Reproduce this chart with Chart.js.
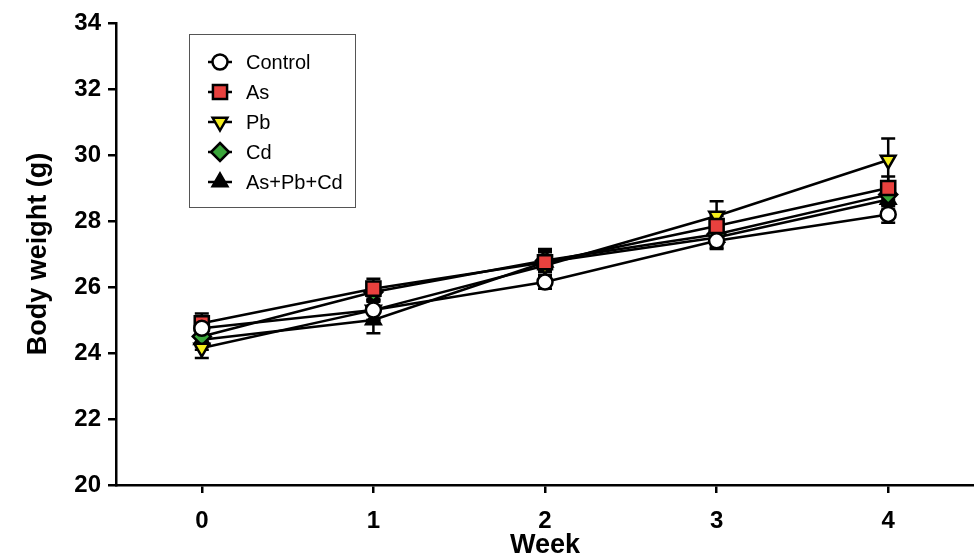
<!DOCTYPE html>
<html>
<head>
<meta charset="utf-8">
<title>Body weight</title>
<script src="https://cdn.jsdelivr.net/npm/chart.js@4.4.1/dist/chart.umd.min.js"></script>
<style>
  html, body { margin: 0; padding: 0; background: #ffffff; overflow: hidden; }
  canvas { display: block; }
</style>
</head>
<body>
<canvas id="weightChart" width="974" height="556"></canvas>
<script>
// Weeks on the x axis
const weeks = ["0", "1", "2", "3", "4"];

// Mean body weight (g) per group
const controlMean = [24.75, 25.3, 26.15, 27.4, 28.2];
const asMean = [24.9, 25.95, 26.75, 27.85, 29.0];
const pbMean = [24.15, 25.3, 26.65, 28.15, 29.85];
const cdMean = [24.5, 25.85, 26.8, 27.6, 28.8];
const mixMean = [24.4, 25.0, 26.75, 27.5, 28.65];

// Error bar half-lengths (g)
const controlErr = [0.3, 0.3, 0.2, 0.25, 0.25];
const asErr = [0.3, 0.3, 0.3, 0.3, 0.35];
const pbErr = [0.3, 0.3, 0.3, 0.45, 0.65];
const cdErr = [0.3, 0.3, 0.3, 0.3, 0.3];
const mixErr = [0.3, 0.4, 0.4, 0.3, 0.3];

const yTicks = [20, 22, 24, 26, 28, 30, 32, 34];

const FONT = "'Liberation Sans', Arial, sans-serif";

const groups = [
  { label: "Control", data: controlMean, err: controlErr, style: "circle", fill: "#ffffff", radius: 7.5 },
  { label: "As", data: asMean, err: asErr, style: "rect", fill: "#e8413e", radius: 10 },
  { label: "Pb", data: pbMean, err: pbErr, style: "triangle", rotation: 180, fill: "#f4ee1c", radius: 8.5 },
  { label: "Cd", data: cdMean, err: cdErr, style: "rectRot", fill: "#3aa53a", radius: 9 },
  { label: "As+Pb+Cd", data: mixMean, err: mixErr, style: "triangle", fill: "#000000", radius: 8.5 },
];

// Draws the error bars under the markers
const errorBars = {
  id: "errorBars",
  beforeDatasetsDraw(chart) {
    const ctx = chart.ctx;
    const x = chart.scales.x;
    const y = chart.scales.y;
    ctx.save();
    ctx.strokeStyle = "#000";
    ctx.lineWidth = 2.5;
    groups.forEach((g) => {
      g.data.forEach((v, i) => {
        const px = x.getPixelForValue(i);
        const top = y.getPixelForValue(v + g.err[i]);
        const bot = y.getPixelForValue(v - g.err[i]);
        ctx.beginPath();
        ctx.moveTo(px, top); ctx.lineTo(px, bot);
        ctx.moveTo(px - 7, top); ctx.lineTo(px + 7, top);
        ctx.moveTo(px - 7, bot); ctx.lineTo(px + 7, bot);
        ctx.stroke();
      });
    });
    ctx.restore();
  },
};

function drawMarker(ctx, g, cx, cy) {
  const r = g.radius;
  ctx.beginPath();
  if (g.style === "circle") {
    ctx.arc(cx, cy, r, 0, Math.PI * 2);
  } else if (g.style === "rect") {
    const s = r * Math.SQRT1_2;
    ctx.rect(cx - s, cy - s, 2 * s, 2 * s);
  } else if (g.style === "rectRot") {
    ctx.moveTo(cx, cy - r); ctx.lineTo(cx + r, cy);
    ctx.lineTo(cx, cy + r); ctx.lineTo(cx - r, cy);
  } else if (g.style === "triangle") {
    const dir = g.rotation === 180 ? -1 : 1;
    ctx.moveTo(cx, cy - dir * r);
    ctx.lineTo(cx + r * 0.866, cy + dir * r * 0.5);
    ctx.lineTo(cx - r * 0.866, cy + dir * r * 0.5);
  }
  ctx.closePath();
  ctx.fillStyle = g.fill;
  ctx.fill();
  ctx.stroke();
}

// Boxed legend in the upper left of the plot
const boxLegend = {
  id: "boxLegend",
  afterDraw(chart) {
    const ctx = chart.ctx;
    ctx.save();
    ctx.strokeStyle = "#555";
    ctx.lineWidth = 1;
    ctx.strokeRect(189.5, 34.5, 166, 173);
    ctx.font = "20px " + FONT;
    ctx.textBaseline = "middle";
    groups.forEach((g, i) => {
      const cy = 62 + i * 30;
      const cx = 220;
      ctx.strokeStyle = "#000";
      ctx.lineWidth = 2.5;
      ctx.beginPath();
      ctx.moveTo(cx - 12, cy); ctx.lineTo(cx + 12, cy);
      ctx.stroke();
      drawMarker(ctx, g, cx, cy);
      ctx.fillStyle = "#000";
      ctx.fillText(g.label, 246, cy + 1);
    });
    ctx.restore();
  },
};

new Chart(document.getElementById("weightChart"), {
  type: "line",
  data: {
    labels: weeks,
    datasets: groups.map((g) => ({
      label: g.label,
      data: g.data,
      borderColor: "#000",
      borderWidth: 2.5,
      pointStyle: g.style,
      pointRotation: g.rotation || 0,
      pointRadius: g.radius,
      pointBackgroundColor: g.fill,
      pointBorderColor: "#000",
      pointBorderWidth: 2.5,
      tension: 0,
    })),
  },
  options: {
    responsive: false,
    animation: false,
    devicePixelRatio: 1,
    layout: { autoPadding: false, padding: { top: 23, right: 0, left: 0, bottom: 0 } },
    plugins: {
      legend: { display: false },
      tooltip: { enabled: false },
    },
    scales: {
      x: {
        type: "category",
        offset: true,
        grid: { offset: false, drawOnChartArea: false, drawTicks: true, tickLength: 8, color: "#000", lineWidth: 2.5 },
        border: { display: true, color: "#000", width: 2.5 },
        ticks: { color: "#000", padding: 14, font: { family: FONT, size: 24, weight: "bold" } },
        title: {
          display: true, text: "Week", color: "#000",
          padding: { top: 0, bottom: 0 },
          font: { family: FONT, size: 27, weight: "bold", lineHeight: 0.75 },
        },
        afterFit(scale) {
          scale.height = 71;
          scale.paddingLeft = 0;
          scale.paddingRight = 0;
        },
      },
      y: {
        min: 20,
        max: 34,
        afterBuildTicks(scale) { scale.ticks = yTicks.map((v) => ({ value: v })); },
        grid: { drawOnChartArea: false, drawTicks: true, tickLength: 8, color: "#000", lineWidth: 2.5 },
        border: { display: true, color: "#000", width: 2.5 },
        ticks: { color: "#000", padding: 7, font: { family: FONT, size: 24, weight: "bold" } },
        title: {
          display: true, text: "Body weight (g)", color: "#000",
          padding: { top: 25, bottom: 0 },
          font: { family: FONT, size: 27, weight: "bold", lineHeight: 1 },
        },
        afterFit(scale) { scale.width = 116; },
      },
    },
  },
  plugins: [errorBars, boxLegend],
});
</script>
</body>
</html>
